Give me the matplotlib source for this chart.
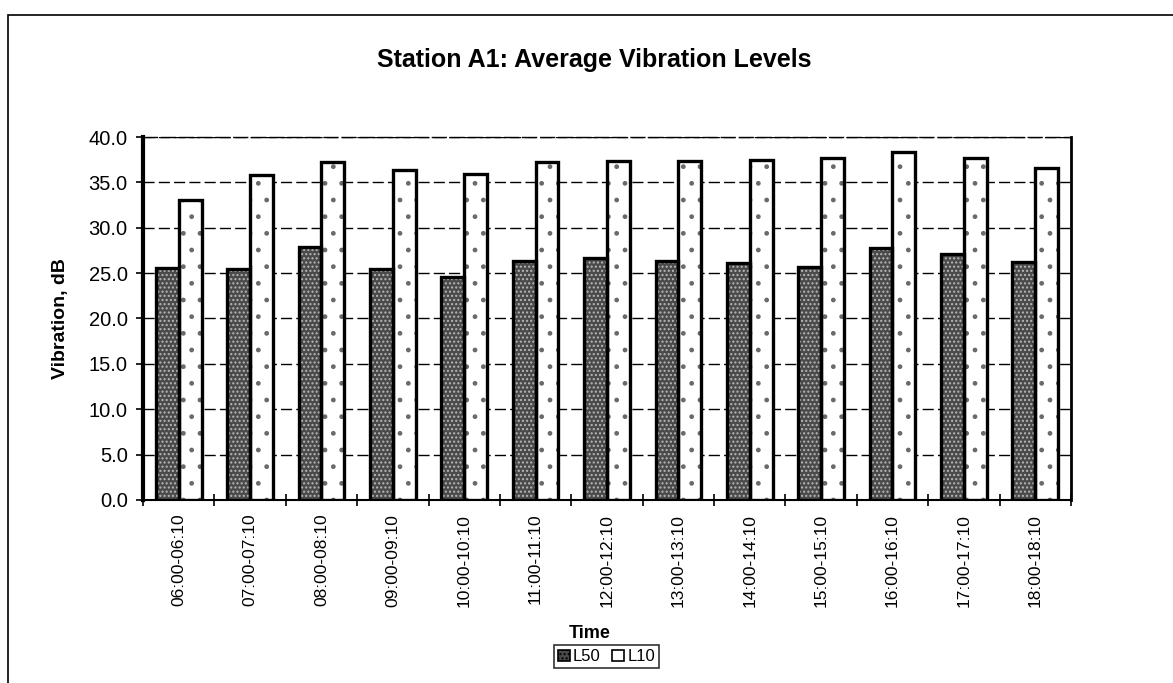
import numpy as np
import matplotlib.pyplot as plt
from matplotlib.patches import Rectangle

plt.rcParams['font.family'] = ['Liberation Sans', 'DejaVu Sans']

# hourly 10-minute windows and the two statistical levels (dB)
periods = ['06:00-06:10', '07:00-07:10', '08:00-08:10', '09:00-09:10',
           '10:00-10:10', '11:00-11:10', '12:00-12:10', '13:00-13:10',
           '14:00-14:10', '15:00-15:10', '16:00-16:10', '17:00-17:10',
           '18:00-18:10']
l50 = [25.6, 25.4, 27.9, 25.5, 24.6, 26.3, 26.7, 26.3, 26.1, 25.7, 27.8, 27.1, 26.2]
l10 = [33.1, 35.8, 37.3, 36.4, 35.9, 37.3, 37.4, 37.4, 37.5, 37.7, 38.4, 37.7, 36.6]

fig = plt.figure(figsize=(11.73, 6.83), dpi=100)
ax = fig.add_axes([0.1219, 0.268, 0.7911, 0.5314])

# page frame around the chart
fig.patches.append(Rectangle((8 / 1173, -0.05), 1.2, (683 - 15) / 683 + 0.05,
                             transform=fig.transFigure, fill=False,
                             edgecolor='black', linewidth=1.2))

x = np.arange(len(periods))
w = 0.32

# fill + hatch first, then outline on top so the hatch can keep its own colour
ax.bar(x - w / 2, l50, w, facecolor='#4a4a4a', edgecolor='#b8b8b8',
       hatch='....', linewidth=0, zorder=3)
ax.bar(x + w / 2, l10, w, facecolor='white', edgecolor='#6a6a6a',
       hatch='.', linewidth=0, zorder=3)
ax.bar(x - w / 2, l50, w, fill=False, edgecolor='black', linewidth=2.4, zorder=4)
ax.bar(x + w / 2, l10, w, fill=False, edgecolor='black', linewidth=2.4, zorder=4)

ax.set_xlim(-0.5, len(periods) - 0.5)
ax.set_ylim(0, 40)
ax.set_yticks(np.arange(0, 41, 5))
ax.set_yticklabels([f'{v:.1f}' for v in np.arange(0, 41, 5)], fontsize=14.5)
ax.yaxis.grid(True, color='black', linestyle=(0, (8, 3)), linewidth=1)
ax.set_axisbelow(True)

# tick marks on category boundaries, labels at the centres
ax.set_xticks(np.arange(-0.5, len(periods), 1.0))
ax.set_xticklabels([])
ax.set_xticks(x, minor=True)
ax.set_xticklabels(periods, minor=True, rotation=90, fontsize=12.5)
ax.tick_params(axis='x', which='major', direction='inout', length=9, width=1.2)
ax.tick_params(axis='x', which='minor', length=0, pad=10)
ax.tick_params(axis='y', direction='out', length=5, width=1.2, pad=6)

ax.spines['left'].set_linewidth(3)
ax.spines['bottom'].set_linewidth(1.5)
ax.spines['right'].set_linewidth(2)
ax.spines['top'].set_linewidth(1)
ax.spines['top'].set_linestyle((0, (10, 3)))

ax.set_ylabel('Vibration, dB', fontsize=14, fontweight='bold', labelpad=14)
fig.text(0.507, 0.912, 'Station A1: Average Vibration Levels',
         ha='center', va='center', fontsize=18, fontweight='bold')
fig.text(0.503, 0.072, 'Time', ha='center', va='center',
         fontsize=13, fontweight='bold')

handles = [Rectangle((0, 0), 1, 1, facecolor='#4a4a4a', edgecolor='black',
                     hatch='....', linewidth=1.2),
           Rectangle((0, 0), 1, 1, facecolor='white', edgecolor='black',
                     linewidth=1.2)]
leg = fig.legend(handles, ['L50', 'L10'], loc='center', ncol=2,
                 bbox_to_anchor=(0.517, 0.0385), fontsize=12, frameon=True,
                 fancybox=False, edgecolor='black', handlelength=0.7,
                 handleheight=0.7, handletextpad=0.2, columnspacing=0.7,
                 borderpad=0.25, borderaxespad=0)
leg.get_frame().set_linewidth(1.2)

fig.savefig('out.png', dpi=100)
